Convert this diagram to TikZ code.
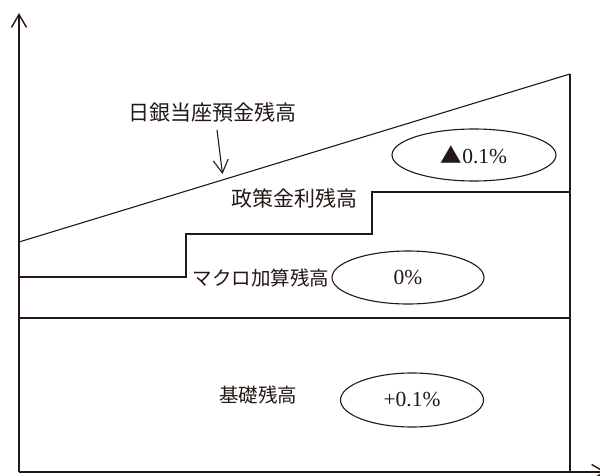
\documentclass[tikz,border=0pt]{standalone}
\usepackage{fontspec}
\setmainfont{Liberation Serif}
\newfontfamily\jp{Noto Sans CJK JP}
\usetikzlibrary{arrows.meta,shapes.geometric}
\definecolor{ink}{HTML}{231815}
\tikzset{
  line/.style={draw=ink,line width=1.6pt},
  thin/.style={draw=ink,line width=1.1pt},
  barb/.style={-{Straight Barb[length=13pt,width=15pt]}},
  jlabel/.style={font=\jp\fontsize{21}{24}\selectfont,text=ink,inner sep=0pt},
  pct/.style={ellipse,draw=ink,line width=1.1pt,inner sep=0pt,font=\fontsize{21.5}{24}\selectfont,text=ink},
}
\begin{document}
\begin{tikzpicture}[x=1pt,y=-1pt]
\useasboundingbox (0,0) rectangle (600,476);
\clip (0,0) rectangle (600,476);
% axes
\coordinate (O) at (19,472);
\coordinate (ytop) at (19,13);
\coordinate (xend) at (606,472);
\draw[line,barb,line width=1.4pt] (O) -- (ytop);
\draw[line,barb,line width=1.4pt] (O) -- (xend);
% diagonal (current account balance)
\coordinate (dl) at (19,242);
\coordinate (dr) at (570,74);
\coordinate (br) at (570,472);
\draw[thin] (dl) -- (dr);
\draw[line] (dr) -- (br);
% policy rate staircase
\coordinate (s0) at (19,277);
\coordinate (s1) at (186,277);
\coordinate (s2) at (186,234);
\coordinate (s3) at (372,234);
\coordinate (s4) at (372,192);
\coordinate (s5) at (570,192);
\draw[line] (s0) -- (s1) -- (s2) -- (s3) -- (s4) -- (s5);
% basic balance boundary
\coordinate (h0) at (19,318);
\coordinate (h1) at (570,318);
\draw[line] (h0) -- (h1);
% labels
\node[jlabel] (lbl) at (212.5,112) {日銀当座預金残高};
\coordinate (astart) at (217,130);
\coordinate (atip) at (222.5,174);
\draw[thin,barb] (astart) -- (atip);
\node[jlabel] (policy) at (294.5,198) {政策金利残高};
\node[jlabel,font=\jp\fontsize{19.5}{24}\selectfont] (macro) at (261,278.5) {マクロ加算残高};
\node[jlabel,font=\jp\fontsize{19.5}{24}\selectfont] (basic) at (258,395) {基礎残高};
% ellipses
\node[pct,minimum width=164pt,minimum height=52pt] (e1) at (474,155) {{\jp ▲}0.1\%};
\node[pct,minimum width=152pt,minimum height=53pt] (e2) at (408,277.5) {0\%};
\node[pct,minimum width=143pt,minimum height=54pt] (e3) at (412,400) {+0.1\%};
\end{tikzpicture}
\end{document}
